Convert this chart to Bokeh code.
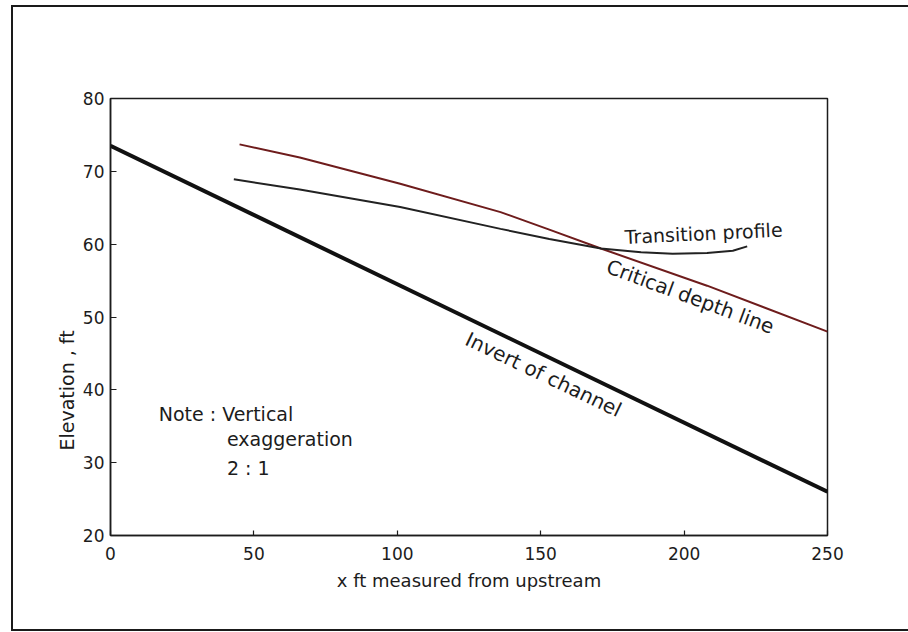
from bokeh.plotting import figure
from bokeh.models import Range1d, FixedTicker, Label, Title
from bokeh.embed import file_html
from bokeh.resources import INLINE
import math

# ---- data ----
x_ticks = [0, 50, 100, 150, 200, 250]
y_ticks = [20, 30, 40, 50, 60, 70, 80]

invert_x = [0, 250]
invert_y = [73.5, 26.0]

critical_x = [45, 66, 101, 136, 153, 171, 208, 250]
critical_y = [73.7, 71.9, 68.3, 64.4, 62.0, 59.4, 54.3, 48.0]

transition_x = [43, 66, 101, 136, 153, 171, 185, 196, 208, 217, 222]
transition_y = [68.9, 67.5, 65.1, 62.1, 60.7, 59.4, 58.9, 58.7, 58.8, 59.1, 59.7]

FONT = "DejaVu Sans"
INK = "#1c1c1c"

p = figure(width=897, height=626, output_backend="svg", toolbar_location=None,
           x_range=Range1d(0, 250), y_range=Range1d(20, 80),
           min_border_left=97, min_border_right=83, min_border_top=91, min_border_bottom=98)
p.margin = (5, 0, 0, 11)
p.styles = {"border-left": "2px solid #1a1a1a", "border-top": "2px solid #1a1a1a",
            "border-bottom": "2px solid #1a1a1a", "border-right": "0px none"}

p.grid.visible = False
p.outline_line_color = INK
p.outline_line_width = 1.5
p.outline_line_alpha = 1.0
p.background_fill_color = "white"
p.border_fill_color = "white"

for ax in (p.xaxis[0], p.yaxis[0]):
    ax.axis_line_color = INK
    ax.axis_line_width = 1.5
    ax.major_tick_line_color = INK
    ax.major_tick_line_width = 1.2
    ax.major_tick_out = 0
    ax.minor_tick_line_color = None
    ax.major_label_text_font = FONT
    ax.major_label_text_font_size = "17px"
    ax.major_label_text_color = INK

p.xaxis[0].ticker = FixedTicker(ticks=x_ticks)
p.yaxis[0].ticker = FixedTicker(ticks=y_ticks)
p.xaxis[0].major_tick_in = 5
p.yaxis[0].major_tick_in = 6
p.xaxis[0].major_label_standoff = 11
p.yaxis[0].major_label_standoff = 6

p.xaxis[0].axis_label = "x ft measured from upstream"
p.xaxis[0].axis_label_text_font = FONT
p.xaxis[0].axis_label_text_font_size = "18px"
p.xaxis[0].axis_label_text_font_style = "normal"
p.xaxis[0].axis_label_text_color = INK
p.xaxis[0].axis_label_standoff = 7

p.add_layout(Title(text="Elevation , ft", align="left", offset=85, standoff=4,
                   text_font=FONT, text_font_size="19px", text_font_style="normal",
                   text_color=INK), "left")

# lines
p.line(invert_x, invert_y, line_color="#111111", line_width=4)
p.line(critical_x, critical_y, line_color="#6e1c1c", line_width=2)
p.line(transition_x, transition_y, line_color="#222222", line_width=2)

def lab(x, y, text, angle=0.0, size="19px", align="center", baseline="middle"):
    p.add_layout(Label(x=x, y=y, text=text, angle=angle, text_font=FONT,
                       text_font_size=size, text_color=INK,
                       text_align=align, text_baseline=baseline))

lab(206.8, 61.5, "Transition profile", angle=math.radians(2.7), size="19px")
lab(202.2, 52.8, "Critical depth line", angle=math.radians(-20.4), size="20px")
lab(151.0, 42.1, "Invert of channel", angle=math.radians(-25.5), size="20px")

lab(16.8, 36.75, "Note : Vertical", align="left")
lab(40.6, 33.3, "exaggeration", align="left")
lab(40.6, 29.3, "2 : 1", align="left")

open("out.html", "w").write(file_html(p, INLINE))
